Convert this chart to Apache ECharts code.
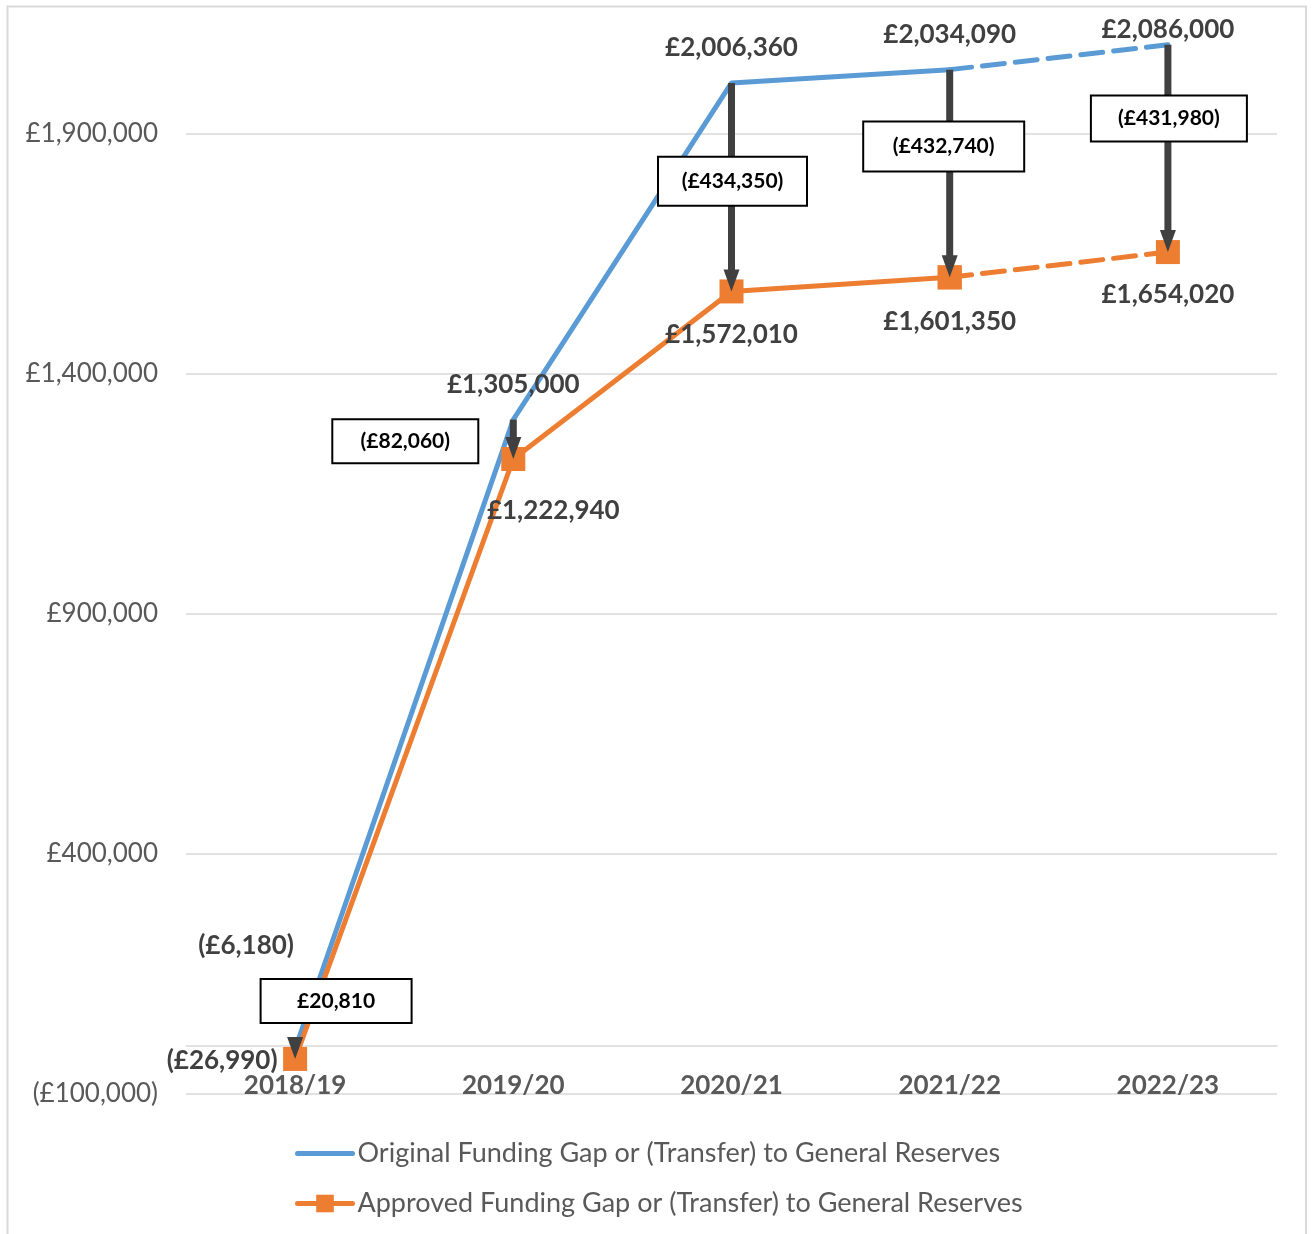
<!DOCTYPE html>
<html><head><meta charset="utf-8">
<script src="https://cdn.jsdelivr.net/npm/echarts@6/dist/echarts.min.js"></script>
<style>html,body{margin:0;padding:0;background:#fff}#chart{width:1312px;height:1234px}</style>
</head><body><div id="chart"></div>
<script>
// ---- data ----
const CATEGORIES = ['2018/19', '2019/20', '2020/21', '2021/22', '2022/23'];
const ORIGINAL = [-6180, 1305000, 2006360, 2034090, 2086000];
const APPROVED = [-26990, 1222940, 1572010, 1601350, 1654020];
const DIFF_LABELS = ['£20,810', '(£82,060)', '(£434,350)', '(£432,740)', '(£431,980)'];
const SERIES_NAMES = [
  'Original Funding Gap or (Transfer) to General Reserves',
  'Approved Funding Gap or (Transfer) to General Reserves'
];
const Y_MIN = -100000, Y_MAX = 2100000, Y_INTERVAL = 500000;
const PROJECTION_START = 3; // index from which the lines are dashed

// ---- styles / layout ----
const BLUE = '#5B9BD5', ORANGE = '#ED7D31', DARK = '#404040', AXIS_TEXT = '#595959', GRID = '#D9D9D9';
const FONT = 'Lato, "Open Sans", sans-serif';
const ORIG_LABEL_OFFSETS = [[-49, -103], [0, -35], [0, -35], [0, -35], [0, -15]];
const APPR_LABEL_OFFSETS = [[-73, 2], [40, 52], [0, 43], [0, 44], [0, 43]];
const BOX_OFFSETS = [[41, -53], [-108, 2], [1, -6], [-6, -27], [1, -30]];
const BOX_SIZES = [[151, 44], [146, 44], [149, 49], [161, 50], [156, 46]];

function commas(n) { return String(Math.round(Math.abs(n))).replace(/\B(?=(\d{3})+(?!\d))/g, ','); }
function fmt(v) { const s = '£' + commas(v); return v < 0 ? '(' + s + ')' : s; }

function lineData(vals, offs, part) {
  return vals.map((v, i) => {
    const inPart = part === 'solid' ? i <= PROJECTION_START : i >= PROJECTION_START;
    if (!inPart) return '-';
    const showLabel = part === 'solid' ? true : i > PROJECTION_START;
    return { value: v, label: { show: showLabel, offset: offs[i] } };
  });
}

const valueLabel = {
  show: true, position: 'inside', formatter: p => fmt(p.value),
  color: DARK, fontWeight: 'bold', fontSize: 26, fontFamily: FONT
};

function lineSeries(name, vals, offs, color, part, withMarker) {
  return {
    name, type: 'line', data: lineData(vals, offs, part),
    symbol: withMarker ? 'rect' : 'circle', symbolSize: withMarker ? 24 : 1,
    showSymbol: true, connectNulls: false,
    lineStyle: { color, width: 5, type: part === 'solid' ? 'solid' : [22, 11], cap: 'round' },
    itemStyle: { color },
    label: valueLabel,
    emphasis: { disabled: true },
    z: withMarker ? 3 : 2
  };
}

const chart = echarts.init(document.getElementById('chart'), null, { renderer: 'canvas' });
chart.setOption({
  animation: false,
  backgroundColor: '#fff',
  textStyle: { fontFamily: FONT },
  graphic: [{
    type: 'rect', silent: true, z: -1,
    shape: { x: 7.5, y: 6.5, width: 1298.5, height: 1300 },
    style: { fill: 'none', stroke: GRID, lineWidth: 2 }
  }],
  grid: { left: 186, right: 35, top: 38, bottom: 140, containLabel: false },
  legend: {
    orient: 'vertical', left: 295, top: 1140, padding: 0, selectedMode: false,
    itemWidth: 55, itemHeight: 22, itemGap: 23,
    textStyle: { fontSize: 27, color: AXIS_TEXT, fontFamily: FONT },
    data: [
      { name: SERIES_NAMES[0], itemStyle: { opacity: 0 }, lineStyle: { width: 5, color: BLUE, type: 'solid' } },
      { name: SERIES_NAMES[1], lineStyle: { width: 5, color: ORANGE, type: 'solid' } }
    ]
  },
  xAxis: {
    type: 'category', data: CATEGORIES, boundaryGap: true,
    axisTick: { show: false },
    axisLine: { onZero: true, lineStyle: { color: GRID, width: 1.5 } },
    axisLabel: { margin: -21, color: AXIS_TEXT, fontWeight: 'bold', fontSize: 26, fontFamily: FONT },
    splitLine: { show: false }
  },
  yAxis: {
    type: 'value', min: Y_MIN, max: Y_MAX, interval: Y_INTERVAL,
    axisLine: { show: false }, axisTick: { show: false },
    axisLabel: { margin: 28, color: AXIS_TEXT, fontSize: 26, fontFamily: FONT, formatter: v => fmt(v), showMaxLabel: false },
    splitLine: { show: true, showMaxLine: false, lineStyle: { color: GRID, width: 1.5 } }
  },
  series: [
    lineSeries(SERIES_NAMES[0], ORIGINAL, ORIG_LABEL_OFFSETS, BLUE, 'solid', false),
    lineSeries(SERIES_NAMES[0], ORIGINAL, ORIG_LABEL_OFFSETS, BLUE, 'dashed', false),
    lineSeries(SERIES_NAMES[1], APPROVED, APPR_LABEL_OFFSETS, ORANGE, 'solid', true),
    lineSeries(SERIES_NAMES[1], APPROVED, APPR_LABEL_OFFSETS, ORANGE, 'dashed', true),
    {
      type: 'custom', z: 10, silent: true,
      data: CATEGORIES.map((c, i) => [i, ORIGINAL[i], APPROVED[i]]),
      encode: { x: 0, y: [1, 2] },
      renderItem: (params, api) => {
        const i = params.dataIndex;
        const p1 = api.coord([api.value(0), api.value(1)]);
        const p2 = api.coord([api.value(0), api.value(2)]);
        const headH = 22, headW = 16;
        const mid = [(p1[0] + p2[0]) / 2, (p1[1] + p2[1]) / 2];
        const bx = mid[0] + BOX_OFFSETS[i][0], by = mid[1] + BOX_OFFSETS[i][1];
        const [bw, bh] = BOX_SIZES[i];
        return {
          type: 'group', children: [
            { type: 'line', shape: { x1: p1[0], y1: p1[1], x2: p2[0], y2: p2[1] - headH + 2 },
              style: { stroke: DARK, lineWidth: 7 } },
            { type: 'polygon', shape: { points: [[p2[0] - headW / 2, p2[1] - headH], [p2[0] + headW / 2, p2[1] - headH], [p2[0], p2[1]]] },
              style: { fill: DARK } },
            { type: 'rect', shape: { x: bx - bw / 2, y: by - bh / 2, width: bw, height: bh },
              style: { fill: '#fff', stroke: '#000', lineWidth: 2 } },
            { type: 'text', x: bx, y: by,
              style: { text: DIFF_LABELS[i], align: 'center', verticalAlign: 'middle',
                       fontSize: 21, fontWeight: 'bold', fontFamily: FONT, fill: '#000' } }
          ]
        };
      }
    }
  ]
});
</script>
</body></html>
